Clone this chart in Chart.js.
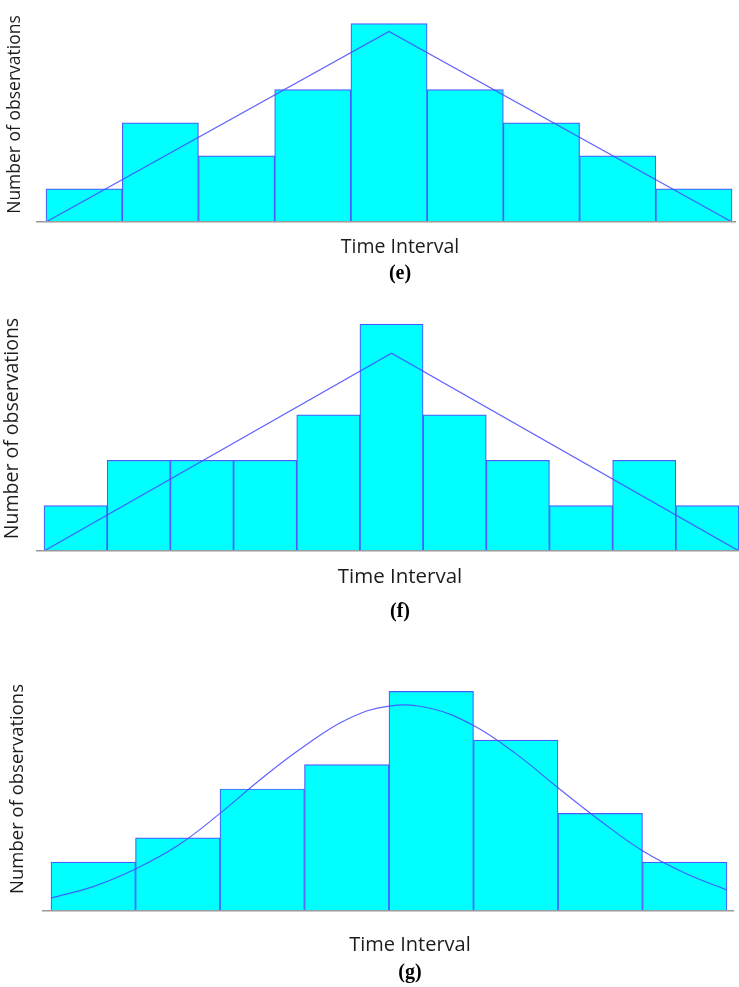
<!DOCTYPE html>
<html>
<head>
<meta charset="utf-8">
<title>Histograms e, f, g</title>
<script src="https://cdn.jsdelivr.net/npm/chart.js@4/dist/chart.umd.min.js"></script>
<style>
  body { margin: 0; background: #fff; overflow: hidden; }
  #wrap { position: relative; width: 739px; height: 987px; overflow: hidden; }
  canvas { position: absolute; left: 0; }
</style>
</head>
<body>
<div id="wrap">
  <canvas id="chartE" width="800" height="292" style="top:0px"></canvas>
  <canvas id="chartF" width="800" height="330" style="top:300px"></canvas>
  <canvas id="chartG" width="820" height="327" style="top:660px"></canvas>
</div>
<script>
/* The data */
const e_counts = [1, 3, 2, 4, 6, 4, 3, 2, 1];
const e_poly_x = [0, 4.5, 9];
const e_poly_y = [0, 5.76, 0];

const f_counts = [1, 2, 2, 2, 3, 5, 3, 2, 1, 2, 1];
const f_poly_x = [0, 5.5, 11];
const f_poly_y = [0, 4.36, 0];

const g_counts = [2, 3, 5, 6, 9, 7, 4, 2];
const g_curve_x = [0, 0.5, 1, 1.5, 2, 2.5, 3, 3.5, 4, 4.5, 5, 5.5, 6, 6.5, 7, 7.5, 8];
const g_curve_y = [0.53, 1.0, 1.72, 2.68, 4.0, 5.45, 6.76, 7.85, 8.4, 8.3, 7.6, 6.45, 5.05, 3.7, 2.47, 1.56, 0.86];

const y_label = 'Number of observations';
const x_label = 'Time Interval';

/* Styles */
const bar_fill = '#00ffff';
const bar_edge = '#4b5cff';
const line_color = 'rgba(70, 70, 255, 0.85)';
const axis_color = '#9a9a9a';
const text_color = '#1c1c1c';

Chart.defaults.font.family = "'Open Sans', sans-serif";
Chart.defaults.color = text_color;

const toPoints = (xs, ys) => xs.map((x, i) => ({ x: x, y: ys[i] }));
const toBins = (counts) => counts.map((c, i) => ({ x: i + 0.5, y: c }));

const buildHistogram = (canvas_id, s) => {
  const ctx = document.getElementById(canvas_id).getContext('2d');
  return new Chart(ctx, {
    type: 'bar',
    data: {
      datasets: [
        {
          type: 'line',
          data: toPoints(s.line_x, s.line_y),
          borderColor: line_color,
          borderWidth: 1.2,
          pointRadius: 0,
          fill: false,
          tension: s.smooth ? 0.4 : 0,
          order: 0
        },
        {
          data: toBins(s.counts),
          backgroundColor: bar_fill,
          borderColor: bar_edge,
          borderWidth: 1.2,
          categoryPercentage: 1,
          barPercentage: 1,
          order: 1
        }
      ]
    },
    options: {
      responsive: false,
      animation: false,
      devicePixelRatio: 1,
      layout: { padding: { top: s.pad_top, left: 0, right: 0, bottom: 0 } },
      plugins: {
        legend: { display: false },
        tooltip: { enabled: false },
        subtitle: {
          display: true,
          position: 'bottom',
          text: x_label,
          color: text_color,
          font: { size: s.x_font, weight: 'normal' },
          padding: { top: s.x_pad, bottom: 0 }
        },
        title: {
          display: true,
          position: 'bottom',
          text: s.caption,
          color: '#000',
          font: { family: "'Liberation Serif', 'Times New Roman', serif", size: 20, weight: 'bold' },
          padding: { top: s.cap_pad, bottom: s.cap_pad_bottom }
        }
      },
      scales: {
        x: {
          type: 'linear',
          offset: false,
          min: s.x_min,
          max: s.x_max,
          grid: { display: false, drawTicks: false },
          border: { display: true, color: axis_color, width: 1.5, z: 1 },
          ticks: { display: false, stepSize: 1, includeBounds: false }
        },
        y: {
          min: 0,
          max: s.y_max,
          grid: { display: false, drawTicks: false },
          border: { display: false },
          ticks: { display: false },
          title: {
            display: true,
            text: y_label,
            color: text_color,
            font: { size: s.y_font },
            padding: { top: s.y_pad_top, bottom: s.y_pad_bottom }
          }
        },
        yr: {
          position: 'right',
          display: true,
          grid: { display: false, drawTicks: false },
          border: { display: false },
          ticks: { display: false },
          afterFit: (scale) => { scale.width = s.right_gap; }
        }
      }
    }
  });
};

/* main */
buildHistogram('chartE', {
  counts: e_counts, line_x: e_poly_x, line_y: e_poly_y, smooth: false,
  caption: '(e)', pad_top: 7, y_max: 6.5, x_min: -0.118, x_max: 9.039,
  y_font: 17.5, y_pad_top: 4.5, y_pad_bottom: 11.5, right_gap: 65,
  x_font: 19.5, x_pad: 13.3, cap_pad: 3.3, cap_pad_bottom: 6
});

buildHistogram('chartF', {
  counts: f_counts, line_x: f_poly_x, line_y: f_poly_y, smooth: false,
  caption: '(f)', pad_top: 6, y_max: 5.4, x_min: -0.111, x_max: 11,
  y_font: 19.5, y_pad_top: 0.5, y_pad_bottom: 13.1, right_gap: 61,
  x_font: 20.5, x_pad: 13.7, cap_pad: 10.4, cap_pad_bottom: 6.3
});

buildHistogram('chartG', {
  counts: g_counts, line_x: g_curve_x, line_y: g_curve_y, smooth: true,
  caption: '(g)', pad_top: 7, y_max: 10, x_min: -0.0947, x_max: 8.071,
  y_font: 18.5, y_pad_top: 7, y_pad_bottom: 13.8, right_gap: 87,
  x_font: 20, x_pad: 22, cap_pad: 4, cap_pad_bottom: 2
});
</script>
</body>
</html>
